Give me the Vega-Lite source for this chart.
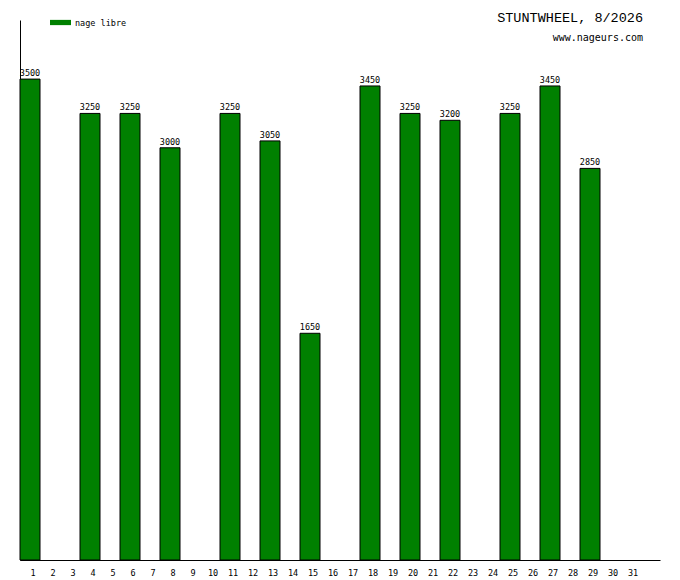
{
  "$schema": "https://vega.github.io/schema/vega-lite/v6.json",
  "width": 640,
  "height": 540,
  "autosize": "none",
  "padding": {"left": 20, "top": 20, "right": 20, "bottom": 20},
  "title": {
    "text": "STUNTWHEEL, 8/2026",
    "subtitle": "www.nageurs.com",
    "anchor": "end",
    "orient": "top",
    "font": "Liberation Mono",
    "fontSize": 13.5,
    "fontWeight": "normal",
    "color": "black",
    "subtitleFont": "DejaVu Sans Mono",
    "subtitleFontSize": 10,
    "subtitleColor": "black",
    "subtitlePadding": 9,
    "dx": -17,
    "offset": -31
  },
  "data": {
    "values": [
      {"day": 1, "value": 3500, "serie": "nage libre"},
      {"day": 4, "value": 3250, "serie": "nage libre"},
      {"day": 6, "value": 3250, "serie": "nage libre"},
      {"day": 8, "value": 3000, "serie": "nage libre"},
      {"day": 11, "value": 3250, "serie": "nage libre"},
      {"day": 13, "value": 3050, "serie": "nage libre"},
      {"day": 15, "value": 1650, "serie": "nage libre"},
      {"day": 18, "value": 3450, "serie": "nage libre"},
      {"day": 20, "value": 3250, "serie": "nage libre"},
      {"day": 22, "value": 3200, "serie": "nage libre"},
      {"day": 25, "value": 3250, "serie": "nage libre"},
      {"day": 27, "value": 3450, "serie": "nage libre"},
      {"day": 29, "value": 2850, "serie": "nage libre"}
    ]
  },
  "encoding": {
    "x": {
      "field": "day",
      "type": "ordinal",
      "scale": {
        "domain": [1,2,3,4,5,6,7,8,9,10,11,12,13,14,15,16,17,18,19,20,21,22,23,24,25,26,27,28,29,30,31,32],
        "paddingInner": 0,
        "paddingOuter": 0
      },
      "axis": {
        "title": null,
        "values": [1,2,3,4,5,6,7,8,9,10,11,12,13,14,15,16,17,18,19,20,21,22,23,24,25,26,27,28,29,30,31],
        "labelAngle": 0,
        "ticks": false,
        "grid": false,
        "domainColor": "black",
        "labelFont": "DejaVu Sans Mono",
        "labelFontSize": 8.5,
        "labelColor": "black",
        "labelPadding": 8,
        "labelOffset": 3
      }
    },
    "y": {
      "field": "value",
      "type": "quantitative",
      "scale": {"domain": [0, 3930], "nice": false},
      "axis": {
        "title": null,
        "labels": false,
        "ticks": false,
        "grid": false,
        "domainColor": "black"
      }
    }
  },
  "layer": [
    {
      "mark": {"type": "bar", "stroke": "black", "strokeWidth": 1},
      "encoding": {
        "color": {
          "field": "serie",
          "type": "nominal",
          "scale": {"range": ["#008000"]},
          "legend": {
            "title": null,
            "orient": "none",
            "legendX": 30,
            "legendY": -8,
            "padding": 0,
            "symbolType": "M-1,-0.25H1V0.25H-1Z",
            "symbolSize": 441,
            "symbolStrokeWidth": 0,
            "symbolOpacity": 1,
            "labelFont": "DejaVu Sans Mono",
            "labelFontSize": 8.5,
            "labelColor": "black",
            "labelOffset": 4
          }
        }
      }
    },
    {
      "mark": {
        "type": "text",
        "baseline": "bottom",
        "dy": -1,
        "font": "DejaVu Sans Mono",
        "fontSize": 8.5,
        "color": "black"
      },
      "encoding": {
        "text": {"field": "value", "type": "quantitative", "format": "d"}
      }
    }
  ],
  "config": {
    "view": {"stroke": null},
    "bar": {"opacity": 1}
  }
}
